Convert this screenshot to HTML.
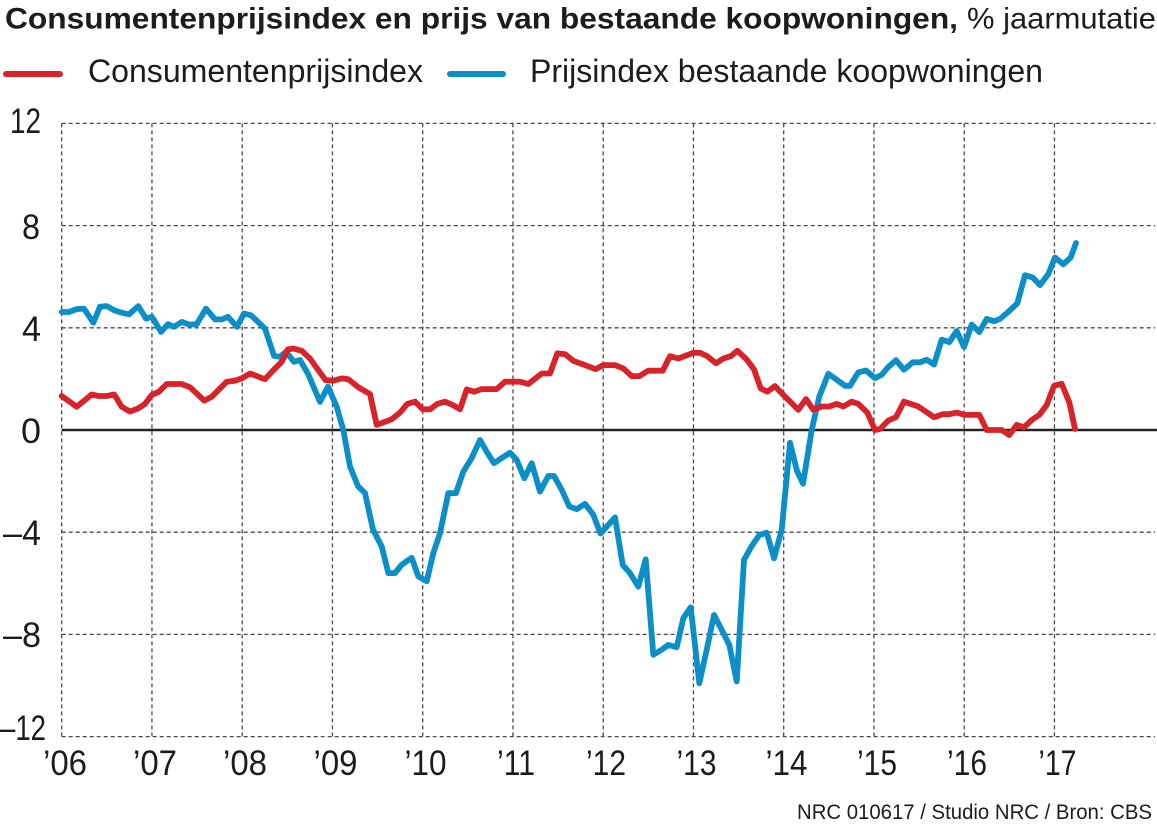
<!DOCTYPE html>
<html><head><meta charset="utf-8"><style>
html,body{margin:0;padding:0;background:#fff;}
svg{display:block;}
text{font-family:"Liberation Sans",Arial,sans-serif;fill:#1c1c1c;}
</style></head><body>
<svg width="1157" height="826" viewBox="0 0 1157 826" xmlns="http://www.w3.org/2000/svg">
<rect width="1157" height="826" fill="#fff"/>
<!-- Title -->
<text x="5" y="28.5" font-size="30" font-weight="bold" textLength="953" lengthAdjust="spacingAndGlyphs">Consumentenprijsindex en prijs van bestaande koopwoningen,</text>
<text x="967" y="28.5" font-size="30" textLength="189" lengthAdjust="spacingAndGlyphs">% jaarmutatie</text>
<!-- Legend -->
<line x1="6" y1="74" x2="60" y2="74" stroke="#d8232a" stroke-width="6" stroke-linecap="round"/>
<text x="88" y="82" font-size="32" textLength="335" lengthAdjust="spacingAndGlyphs">Consumentenprijsindex</text>
<line x1="450" y1="74" x2="503" y2="74" stroke="#0c8ec7" stroke-width="6" stroke-linecap="round"/>
<text x="530" y="82" font-size="32" textLength="513" lengthAdjust="spacingAndGlyphs">Prijsindex bestaande koopwoningen</text>
<!-- Grid -->
<g stroke="#4a4a4a" stroke-width="1.3" stroke-dasharray="4,3" fill="none">
<line x1="61.7" y1="123.4" x2="1155" y2="123.4"/>
<line x1="61.7" y1="225.6" x2="1155" y2="225.6"/>
<line x1="61.7" y1="327.8" x2="1155" y2="327.8"/>
<line x1="61.7" y1="532.2" x2="1155" y2="532.2"/>
<line x1="61.7" y1="634.4" x2="1155" y2="634.4"/>
<line x1="61.7" y1="736.6" x2="1155" y2="736.6"/>
<line x1="61.7" y1="123.4" x2="61.7" y2="736.6"/>
<line x1="151.95" y1="123.4" x2="151.95" y2="736.6"/>
<line x1="242.2" y1="123.4" x2="242.2" y2="736.6"/>
<line x1="332.45" y1="123.4" x2="332.45" y2="736.6"/>
<line x1="422.7" y1="123.4" x2="422.7" y2="736.6"/>
<line x1="512.95" y1="123.4" x2="512.95" y2="736.6"/>
<line x1="603.2" y1="123.4" x2="603.2" y2="736.6"/>
<line x1="693.45" y1="123.4" x2="693.45" y2="736.6"/>
<line x1="783.7" y1="123.4" x2="783.7" y2="736.6"/>
<line x1="873.95" y1="123.4" x2="873.95" y2="736.6"/>
<line x1="964.2" y1="123.4" x2="964.2" y2="736.6"/>
<line x1="1054.45" y1="123.4" x2="1054.45" y2="736.6"/>
</g>
<line x1="61.7" y1="430" x2="1157" y2="430" stroke="#222" stroke-width="2.6"/>
<!-- Y labels -->
<g font-size="35">
<text x="10" y="133" textLength="31" lengthAdjust="spacingAndGlyphs">12</text>
<text x="22" y="239" textLength="18" lengthAdjust="spacingAndGlyphs">8</text>
<text x="22" y="341" textLength="19" lengthAdjust="spacingAndGlyphs">4</text>
<text x="21" y="443" textLength="20" lengthAdjust="spacingAndGlyphs">0</text>
<text x="3" y="545" textLength="38" lengthAdjust="spacingAndGlyphs">–4</text>
<text x="3" y="647" textLength="38" lengthAdjust="spacingAndGlyphs">–8</text>
<text x="0" y="740" textLength="46" lengthAdjust="spacingAndGlyphs">–12</text>
</g>
<!-- X labels -->
<g font-size="35" text-anchor="middle">
<text x="65" y="775" textLength="44" lengthAdjust="spacingAndGlyphs">’06</text>
<text x="155" y="775" textLength="44" lengthAdjust="spacingAndGlyphs">’07</text>
<text x="245" y="775" textLength="44" lengthAdjust="spacingAndGlyphs">’08</text>
<text x="335.5" y="775" textLength="44" lengthAdjust="spacingAndGlyphs">’09</text>
<text x="425.5" y="775" textLength="42" lengthAdjust="spacingAndGlyphs">’10</text>
<text x="516" y="775" textLength="38" lengthAdjust="spacingAndGlyphs">’11</text>
<text x="606" y="775" textLength="40" lengthAdjust="spacingAndGlyphs">’12</text>
<text x="696.5" y="775" textLength="40" lengthAdjust="spacingAndGlyphs">’13</text>
<text x="786.5" y="775" textLength="42" lengthAdjust="spacingAndGlyphs">’14</text>
<text x="877" y="775" textLength="40" lengthAdjust="spacingAndGlyphs">’15</text>
<text x="967" y="775" textLength="40" lengthAdjust="spacingAndGlyphs">’16</text>
<text x="1057.5" y="775" textLength="38" lengthAdjust="spacingAndGlyphs">’17</text>
</g>
<!-- Blue series -->
<polyline fill="none" stroke="#0c8ec7" stroke-width="5.8" stroke-linejoin="round" stroke-linecap="round" points="61.7,312 69,312 76.7,309.1 84,308.6 93.3,322.7 100,306.8 106.7,306.1 114,310.2 121.7,312.7 129,314.3 138.3,306.1 146,318.6 152,316.8 161,331.9 168,324.2 174,326.8 181.7,321.9 189,324.5 196.7,324.2 206,308.6 215,319.4 222,319.4 228,316.8 237,326.8 244,313.5 251,315.3 258,321.9 265,328.6 274,355.9 280,356.7 286,351.8 294,361.8 300,360 308,373.8 320,401.9 328,386.6 336.7,406.7 343.3,430 350,466.5 358,486.2 365,493.1 373,529.6 381.7,546.5 388.3,573.1 395,573.1 401.7,564.7 411.7,557.8 418.3,576.4 426.7,581.3 433.3,553.2 440,533.2 448.3,493.1 456,493.1 463.3,471.6 471.7,458.1 480,440 486.7,451.7 494,463.2 501.7,458.1 510,452.7 516.7,459.9 524.3,478.3 531.7,463.2 540,491.6 548.3,476 554,476 561.7,489.8 569.3,506.4 576.7,509.2 585,503.8 593.3,514.8 600.5,533.5 615,517.4 622.7,564.9 630,573.1 638.3,586.6 645.7,559.3 653.3,654.8 661.7,649.7 668.3,644.9 676.7,647.2 683.3,618.3 690.7,607.3 699.3,683.2 706.7,649.7 714,615 721.7,629.8 729.3,644.9 736.7,681.4 744,559.8 751.7,546 759.3,535 766.7,532.7 774,558.3 781.7,529.9 790,442.8 797,470.9 803,483.7 811.7,430 819.3,396.5 828.3,373.8 836.7,379.7 845,385.8 850,385.8 858.3,372.3 866,370.5 875,378.1 881.7,374.8 888.3,366.9 896,360.2 904,369.7 912.7,362.3 920,362.3 926.7,359.7 934,364.6 941.7,339.6 949.3,342.1 956.7,331.1 964,347 971.7,324.5 979.3,332.1 986.7,318.9 994,321.2 1000,318.9 1009.3,310.9 1017.3,303.3 1025,275.2 1032.7,277.5 1040,285.1 1048.3,274.1 1055,257.5 1063.3,264.2 1070.7,257.5 1076,243"/>
<!-- Red series -->
<polyline fill="none" stroke="#d8232a" stroke-width="5.8" stroke-linejoin="round" stroke-linecap="round" points="61.7,396 76.7,406.8 91.7,394.5 98.3,396 106.7,396 114.3,394.5 121.7,406.8 130,411.6 138.3,408.3 145,403.9 151.7,395 159,391.7 166.7,384 181.7,384 190,387.3 196.7,393.5 204.3,400.6 211.7,396.8 226.7,381.7 235,380.7 241.7,378.4 250,373.5 265,379.2 273.3,370.2 281.7,361.8 287.7,349.5 293.3,348.5 301.7,350.8 310,358.5 318.3,370.2 325.7,380.2 333.3,380.7 341.7,378.4 348.3,379.2 358.3,387.3 370,394 376.7,424.9 391.7,419.3 400,412.6 407.3,403.9 415,401.6 422.7,409.3 430,409.3 437.3,403.9 445,401.6 452.7,405 460,409.3 466.7,389.4 474,391.7 481.7,389.1 496.7,389.1 505,381.7 520,381.7 528.3,384 541.7,373.5 550,373.5 557.3,353.4 565,354.1 573.3,360.8 585,365.1 595.7,369.2 603.3,365.1 615,365.1 623.3,368.4 631.7,376.1 639.3,376.1 648.3,370.7 662.7,370.7 670,356.2 678.3,358.5 693.3,352.8 700,352.8 707.3,356.2 716,363.3 723.3,358.5 730.7,356.2 737.3,350.8 746.7,359.5 754,369.4 760.7,388.4 767.3,391.7 775,386.1 783.3,395 790,401.6 798.3,409.8 806,399.1 813.3,409.8 821.7,406.5 829.3,406.5 836.7,403.9 843.3,406.5 851.7,401.6 858.3,403.9 867.3,412.6 875,430 880,429 888.3,420.5 896,417.2 904,401.6 918.3,406.5 934,417.2 942.7,414.2 949.3,414.2 956.7,412.6 965,414.9 979.3,414.9 986.7,430 1001.7,430 1009.3,435.1 1016.7,424.9 1024,427.4 1031.7,420 1039.3,414.9 1046.7,405 1054,385.8 1061.7,383.8 1069.3,402.4 1075,429"/>
<!-- Footer -->
<text x="797" y="819" font-size="21" textLength="355" lengthAdjust="spacingAndGlyphs">NRC 010617 / Studio NRC / Bron: CBS</text>
</svg>
</body></html>
